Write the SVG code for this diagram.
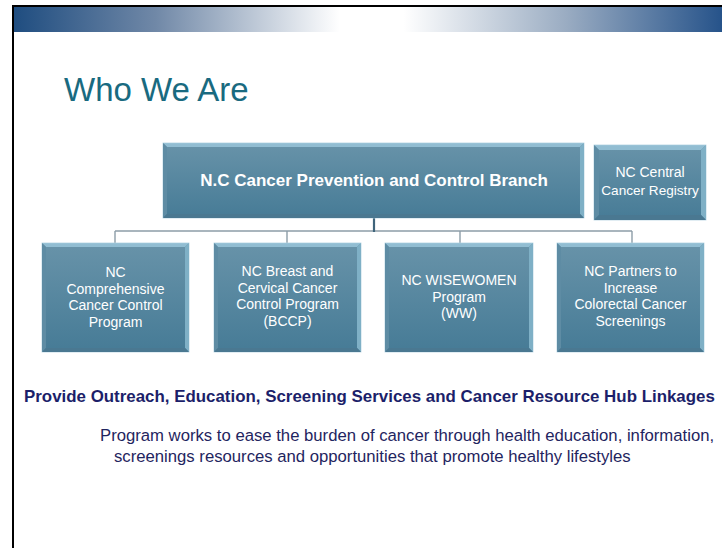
<svg xmlns="http://www.w3.org/2000/svg" width="722" height="548" viewBox="0 0 722 548">
<defs>
<linearGradient id="bar" gradientUnits="userSpaceOnUse" x1="14" y1="0" x2="722" y2="0">
<stop offset="0" stop-color="#1f4d80"/>
<stop offset="0.2" stop-color="#7088a7"/>
<stop offset="0.46" stop-color="#ffffff"/>
<stop offset="0.55" stop-color="#ffffff"/>
<stop offset="0.78" stop-color="#9aacc2"/>
<stop offset="1" stop-color="#26538a"/>
</linearGradient>
<linearGradient id="face" x1="0" y1="0" x2="0" y2="1">
<stop offset="0" stop-color="#6893a9"/>
<stop offset="1" stop-color="#467b96"/>
</linearGradient>
</defs>
<style>
.face{fill:url(#face);stroke:#b3d3e1;stroke-width:0.8}
.bt{fill:#9cc8dc;opacity:0.8}
.bl{fill:#5e8ca4}
.br{fill:#7fb0c6}
.bb{fill:#4a7891}
.lbl{font-family:"Liberation Sans",Arial,sans-serif;font-size:14px;fill:#ffffff;text-anchor:middle}
.big{font-family:"Liberation Sans",Arial,sans-serif;font-size:17px;font-weight:bold;fill:#ffffff;text-anchor:middle}
.thin{stroke:#8d9da8;stroke-width:1.4;fill:none}
.main{stroke:#3f647b;stroke-width:2.2;fill:none}
</style>
<rect x="0" y="0" width="722" height="548" fill="#ffffff"/>
<rect x="14" y="7" width="708" height="25" fill="url(#bar)"/>
<rect x="12" y="5" width="710" height="2" fill="#000000"/>
<rect x="12" y="5" width="2" height="543" fill="#000000"/>
<text x="64" y="101" font-family="Liberation Sans, Arial, sans-serif" font-size="33" fill="#196a80">Who We Are</text>

<g id="connectors">
<path class="thin" d="M115 231 H632 M115 231 V243 M287 231 V243 M460 231 V243 M632 231 V243"/>
<path class="main" d="M374 218 V232"/>
</g>

<g id="branch">
<rect class="face" x="163" y="143" width="421" height="75"/>
<polygon class="bt" points="163,143 584,143 580,147 167,147"/>
<polygon class="bl" points="163,143 167,147 167,214 163,218"/>
<polygon class="br" points="584,143 584,218 580,214 580,147"/>
<polygon class="bb" points="163,218 167,214 580,214 584,218"/>
<text class="big" x="374" y="186">N.C Cancer Prevention and Control Branch</text>
</g>

<g id="registry">
<rect class="face" x="594" y="145" width="112" height="75"/>
<polygon class="bt" points="594,145 706,145 701,150 599,150"/>
<polygon class="bl" points="594,145 599,150 599,215 594,220"/>
<polygon class="br" points="706,145 706,220 701,215 701,150"/>
<polygon class="bb" points="594,220 599,215 701,215 706,220"/>
<text class="lbl" x="650" y="177">NC Central</text>
<text class="lbl" x="650" y="195" style="font-size:13.6px">Cancer Registry</text>
</g>

<g id="ccc">
<rect class="face" x="42" y="243" width="147" height="109"/>
<polygon class="bt" points="42,243 189,243 185,247 46,247"/>
<polygon class="bl" points="42,243 46,247 46,348 42,352"/>
<polygon class="br" points="189,243 189,352 185,348 185,247"/>
<polygon class="bb" points="42,352 46,348 185,348 189,352"/>
<text class="lbl" x="115.5" y="277">NC</text>
<text class="lbl" x="115.5" y="293.5">Comprehensive</text>
<text class="lbl" x="115.5" y="310">Cancer Control</text>
<text class="lbl" x="115.5" y="326.5">Program</text>
</g>

<g id="bccp">
<rect class="face" x="214" y="243" width="147" height="109"/>
<polygon class="bt" points="214,243 361,243 357,247 218,247"/>
<polygon class="bl" points="214,243 218,247 218,348 214,352"/>
<polygon class="br" points="361,243 361,352 357,348 357,247"/>
<polygon class="bb" points="214,352 218,348 357,348 361,352"/>
<text class="lbl" x="287.5" y="276">NC Breast and</text>
<text class="lbl" x="287.5" y="292.5">Cervical Cancer</text>
<text class="lbl" x="287.5" y="309">Control Program</text>
<text class="lbl" x="287.5" y="325.5">(BCCP)</text>
</g>

<g id="ww">
<rect class="face" x="385" y="243" width="148" height="109"/>
<polygon class="bt" points="385,243 533,243 529,247 389,247"/>
<polygon class="bl" points="385,243 389,247 389,348 385,352"/>
<polygon class="br" points="533,243 533,352 529,348 529,247"/>
<polygon class="bb" points="385,352 389,348 529,348 533,352"/>
<text class="lbl" x="459" y="285">NC WISEWOMEN</text>
<text class="lbl" x="459" y="301.5">Program</text>
<text class="lbl" x="459" y="318">(WW)</text>
</g>

<g id="crc">
<rect class="face" x="557" y="243" width="147" height="109"/>
<polygon class="bt" points="557,243 704,243 700,247 561,247"/>
<polygon class="bl" points="557,243 561,247 561,348 557,352"/>
<polygon class="br" points="704,243 704,352 700,348 700,247"/>
<polygon class="bb" points="557,352 561,348 700,348 704,352"/>
<text class="lbl" x="630.5" y="276">NC Partners to</text>
<text class="lbl" x="630.5" y="292.5">Increase</text>
<text class="lbl" x="630.5" y="309">Colorectal Cancer</text>
<text class="lbl" x="630.5" y="325.5">Screenings</text>
</g>

<text x="24" y="402" font-family="Liberation Sans, Arial, sans-serif" font-size="16.9" font-weight="bold" fill="#1c1f6a">Provide Outreach, Education, Screening Services and Cancer Resource Hub Linkages</text>
<text font-family="Liberation Sans, Arial, sans-serif" font-size="16.7" fill="#1f2560">
<tspan x="100" y="441">Program works to ease the burden of cancer through health education, information,</tspan>
<tspan x="114" y="461.5">screenings resources and opportunities that promote healthy lifestyles</tspan>
</text>
</svg>
